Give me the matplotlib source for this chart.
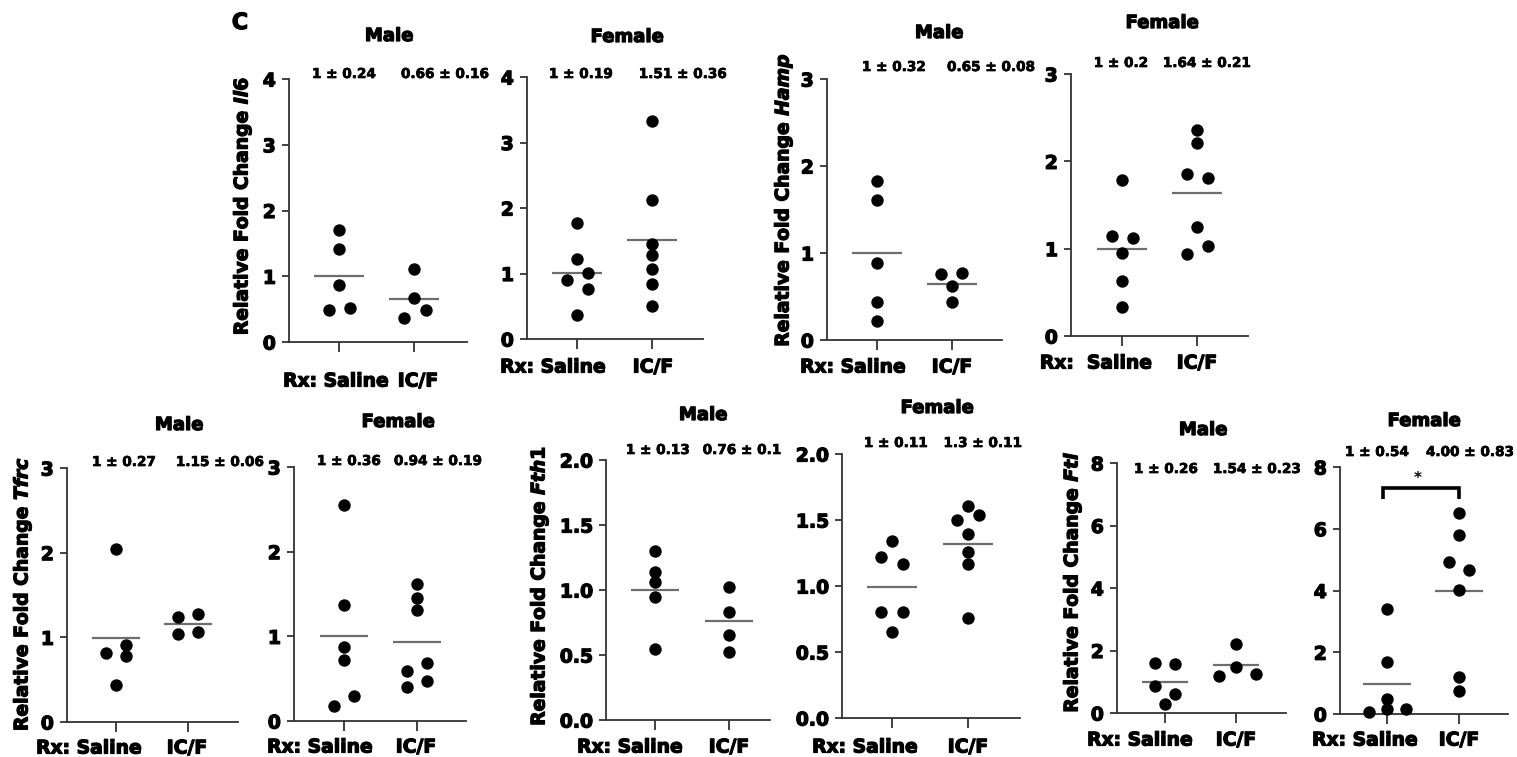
import matplotlib
matplotlib.use("Agg")
import matplotlib.pyplot as plt
import matplotlib.patheffects as pe
import numpy as np

plt.rcParams['font.family'] = ['DejaVu Sans']
plt.rcParams['font.weight'] = 'bold'
plt.rcParams['mathtext.fontset'] = 'custom'
plt.rcParams['mathtext.it'] = 'DejaVu Sans:italic:bold'
plt.rcParams['mathtext.rm'] = 'DejaVu Sans:bold'

W, H = 1517, 757

# ---------------- data ----------------
groups = ["Saline", "IC/F"]

il6_m_saline = [1.70, 1.42, 0.86, 0.52, 0.49]
il6_m_icf = [1.11, 0.67, 0.49, 0.37]
il6_f_saline = [1.77, 1.215, 1.01, 0.90, 0.757, 0.36]
il6_f_icf = [3.33, 2.12, 1.45, 1.28, 1.07, 0.84, 0.51]

hamp_m_saline = [1.83, 1.61, 0.89, 0.44, 0.22]
hamp_m_icf = [0.767, 0.76, 0.625, 0.44]
hamp_f_saline = [1.79, 1.145, 1.12, 0.947, 0.634, 0.336]
hamp_f_icf = [2.36, 2.21, 1.855, 1.805, 1.25, 1.034, 0.935]

tfrc_m_saline = [2.04, 0.908, 0.81, 0.778, 0.434]
tfrc_m_icf = [1.275, 1.243, 1.066, 1.034]
tfrc_f_saline = [2.556, 1.368, 0.877, 0.72, 0.295, 0.177]
tfrc_f_icf = [1.616, 1.451, 1.309, 0.688, 0.594, 0.472, 0.397]

fth1_m_saline = [1.30, 1.141, 1.064, 0.949, 0.544]
fth1_m_icf = [1.026, 0.831, 0.654, 0.52]
fth1_f_saline = [1.342, 1.216, 1.165, 0.802, 0.802, 0.648]
fth1_f_icf = [1.609, 1.538, 1.50, 1.395, 1.261, 1.165, 0.757]

ftl_m_saline = [1.60, 1.58, 0.853, 0.619, 0.299]
ftl_m_icf = [2.197, 1.472, 1.259, 1.195]
ftl_f_saline = [3.385, 1.671, 0.485, 0.151, 0.151, 0.075]
ftl_f_icf = [6.51, 5.79, 4.927, 4.658, 4.032, 1.186, 0.755]

mean_labels = {
    "il6_m": ["1 ± 0.24", "0.66 ± 0.16"],
    "il6_f": ["1 ± 0.19", "1.51 ± 0.36"],
    "hamp_m": ["1 ± 0.32", "0.65 ± 0.08"],
    "hamp_f": ["1 ± 0.2", "1.64 ± 0.21"],
    "tfrc_m": ["1 ± 0.27", "1.15 ± 0.06"],
    "tfrc_f": ["1 ± 0.36", "0.94 ± 0.19"],
    "fth1_m": ["1 ± 0.13", "0.76 ± 0.1"],
    "fth1_f": ["1 ± 0.11", "1.3 ± 0.11"],
    "ftl_m": ["1 ± 0.26", "1.54 ± 0.23"],
    "ftl_f": ["1 ± 0.54", "4.00 ± 0.83"],
}

yticks_il6 = [0, 1, 2, 3, 4]
yticks_hamp = [0, 1, 2, 3]
yticks_tfrc = [0, 1, 2, 3]
yticks_fth1 = [0.0, 0.5, 1.0, 1.5, 2.0]
yticks_ftl = [0, 2, 4, 6, 8]

# ---------------- layout (pixels) ----------------
# swarm side of each point (multiples of the jitter step)
sides = {
    "il6_m": ([0, 0, 0, 1, -1], [0, 0, 1.1, -0.95]),
    "il6_f": ([0, 0, 1, -1, 1, 0], [0] * 7),
    "hamp_m": ([0] * 5, [1, -1, 0, 0]),
    "hamp_f": ([0, -1, 1, 0, 0, 0], [0, 0, -1, 1, 0, 1, -1]),
    "tfrc_m": ([0, 1, -1, 1, 0], [1, -1, 1, -1]),
    "tfrc_f": ([0, 0, 0, 0, 1, -1], [0, 0, 0, 1, -1, 1, -1]),
    "fth1_m": ([0] * 5, [0] * 4),
    "fth1_f": ([0, -1, 1, -1, 1, 0], [0, 1, -1, 0, 0, 0, 0]),
    "ftl_m": ([-1, 1, -1, 1, 0], [0, 0, 2.0, -1.7]),
    "ftl_f": ([0, 0, 0, 0, 1.9, -1.8], [0, 0, -1, 1, 0, 0, 0]),
}
STEP = 0.14

panels = [
    dict(key="il6_m", sal=il6_m_saline, icf=il6_m_icf, yt=yticks_il6, fmt="{:d}",
         box=(289, 79, 467, 342), tk=(339, 414), title="Male", tpos=(389, 36),
         mpos=[(344, 74), (445, 74)], gene="Il6", ypos=(242, 206),
         rx=(336, 381), icpos=(418, 381)),
    dict(key="il6_f", sal=il6_f_saline, icf=il6_f_icf, yt=yticks_il6, fmt="{:d}",
         box=(527, 77, 703, 339), tk=(577, 652), title="Female", tpos=(627, 37),
         mpos=[(581, 74), (683, 74)], gene=None, ypos=None,
         rx=(553, 367), icpos=(653, 367)),
    dict(key="hamp_m", sal=hamp_m_saline, icf=hamp_m_icf, yt=yticks_hamp, fmt="{:d}",
         box=(827, 79, 1002, 340), tk=(877, 952), title="Male", tpos=(939, 33),
         mpos=[(894, 67), (991, 67)], gene="Hamp", ypos=(783, 200),
         rx=(853, 367), icpos=(952, 367)),
    dict(key="hamp_f", sal=hamp_f_saline, icf=hamp_f_icf, yt=yticks_hamp, fmt="{:d}",
         box=(1071, 74, 1248, 336), tk=(1122, 1197), title="Female", tpos=(1162, 23),
         mpos=[(1121, 63), (1207, 63)], gene=None, ypos=None,
         rx=(1096, 363), icpos=(1197, 363), rxtxt="Rx:  Saline"),
    dict(key="tfrc_m", sal=tfrc_m_saline, icf=tfrc_m_icf, yt=yticks_tfrc, fmt="{:d}",
         box=(67, 468, 238, 722), tk=(116, 188), title="Male", tpos=(179, 425),
         mpos=[(124, 462), (220, 462)], gene="Tfrc", ypos=(22, 594),
         rx=(89, 748), icpos=(187, 748)),
    dict(key="tfrc_f", sal=tfrc_f_saline, icf=tfrc_f_icf, yt=yticks_tfrc, fmt="{:d}",
         box=(294, 467, 466, 721), tk=(344, 417), title="Female", tpos=(398, 422),
         mpos=[(349, 461), (438, 461)], gene=None, ypos=None,
         rx=(320, 747), icpos=(416, 747)),
    dict(key="fth1_m", sal=fth1_m_saline, icf=fth1_m_icf, yt=yticks_fth1, fmt="{:.1f}",
         box=(606, 460, 770, 720), tk=(655, 729), title="Male", tpos=(703, 415),
         mpos=[(658, 450), (742, 450)], gene="Fth1", ypos=(539, 586),
         rx=(630, 747), icpos=(729, 747)),
    dict(key="fth1_f", sal=fth1_f_saline, icf=fth1_f_icf, yt=yticks_fth1, fmt="{:.1f}",
         box=(842, 454, 1020, 718), tk=(892, 968), title="Female", tpos=(937, 408),
         mpos=[(896, 443), (983, 443)], gene=None, ypos=None,
         rx=(865, 747), icpos=(968, 747)),
    dict(key="ftl_m", sal=ftl_m_saline, icf=ftl_m_icf, yt=yticks_ftl, fmt="{:d}",
         box=(1117, 463, 1286, 713), tk=(1165, 1236), title="Male", tpos=(1203, 430),
         mpos=[(1166, 469), (1257, 469)], gene="Ftl", ypos=(1072, 582),
         rx=(1140, 740), icpos=(1236, 740)),
    dict(key="ftl_f", sal=ftl_f_saline, icf=ftl_f_icf, yt=yticks_ftl, fmt="{:d}",
         box=(1340, 467, 1508, 714), tk=(1387, 1459), title="Female", tpos=(1424, 421),
         mpos=[(1377, 452), (1470, 452)], gene=None, ypos=None,
         rx=(1365, 740), icpos=(1459, 740)),
]

FS_TICK = 13.5
FS_TITLE = 13
FS_MEAN = 9.8
FS_YLAB = 13.5
SPINE = "#333333"
HEAVY = [pe.withStroke(linewidth=0.9, foreground="black")]
HEAVY_S = [pe.withStroke(linewidth=0.5, foreground="black")]

fig = plt.figure(figsize=(W / 100, H / 100), dpi=100)


def fx(x):
    return x / W


def fy(y):
    return 1 - y / H


def ftext(x, y, s, effects=HEAVY, **kw):
    kw.setdefault("ha", "center")
    kw.setdefault("va", "center")
    kw.setdefault("fontweight", "bold")
    return fig.text(fx(x), fy(y), s, path_effects=effects, **kw)


for p in panels:
    L, T, R, B = p["box"]
    t0, t1 = p["tk"]
    ax = fig.add_axes([fx(L), fy(B), (R - L) / W, (B - T) / H])
    ax.set_xlim((L - t0) / (t1 - t0), (R - t0) / (t1 - t0))
    ax.set_ylim(p["yt"][0], p["yt"][-1])
    for s in ["top", "right"]:
        ax.spines[s].set_visible(False)
    for s in ["left", "bottom"]:
        ax.spines[s].set_linewidth(1.3)
        ax.spines[s].set_color(SPINE)
    ax.set_yticks(p["yt"])
    labs = ax.set_yticklabels([p["fmt"].format(v) for v in p["yt"]], fontsize=FS_TICK, fontweight="bold")
    for t in labs:
        t.set_path_effects(HEAVY)
    ax.tick_params(axis="y", length=5, width=1.3, color=SPINE, pad=4.5)
    ax.set_xticks([0, 1])
    ax.set_xticklabels([])
    ax.tick_params(axis="x", length=7, width=1.3, color=SPINE)
    ax.patch.set_alpha(0)

    sd_sal, sd_icf = sides[p["key"]]
    for i, (vals, sd) in enumerate([(p["sal"], sd_sal), (p["icf"], sd_icf)]):
        vals = np.asarray(vals, dtype=float)
        xs = i + np.asarray(sd, dtype=float) * STEP
        ax.scatter(xs, vals, s=80, color="black", linewidths=0, zorder=3, clip_on=False)
        m = vals.mean()
        ax.hlines(m, i - 0.33, i + 0.33, color="#6e6e6e", lw=1.6, zorder=2)

    if p["key"] == "ftl_f":
        yb, yt_ = 6.96, 7.31
        ax.plot([-0.05, -0.05, 1, 1], [yb, yt_, yt_, yb], color="black", lw=2.6,
                solid_joinstyle="miter", solid_capstyle="butt", clip_on=False)
        ax.text(0.42, 7.62, "*", ha="center", va="center", fontsize=11, fontweight="bold")

    ftext(*p["tpos"], p["title"], fontsize=FS_TITLE)
    for (mx, my), lab in zip(p["mpos"], mean_labels[p["key"]]):
        ftext(mx, my, lab, effects=HEAVY_S, fontsize=FS_MEAN)
    if p["gene"]:
        ftext(*p["ypos"], "Relative Fold Change $\\mathit{" + p["gene"] + "}$",
              fontsize=FS_YLAB, rotation=90)
    ftext(*p["rx"], p.get("rxtxt", "Rx: Saline"), fontsize=FS_TICK)
    ftext(*p["icpos"], "IC/F", fontsize=FS_TICK)

ftext(240, 23, "C", fontsize=16)

fig.savefig("out.png", dpi=100)
